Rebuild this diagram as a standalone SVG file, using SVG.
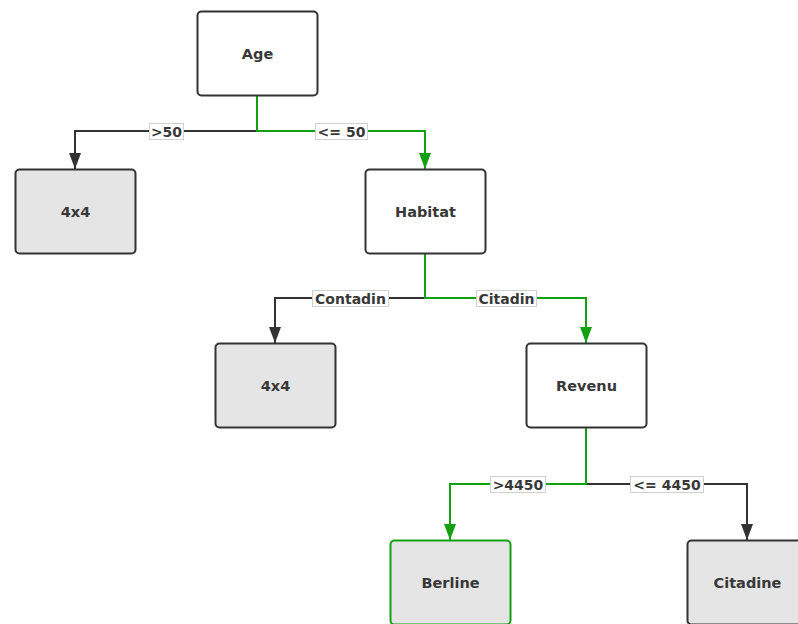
<svg xmlns="http://www.w3.org/2000/svg" width="798" height="624" viewBox="0 0 798 624">
  <style>
    .box { stroke: #333; stroke-width: 2; fill: #fff; }
    .leaf { fill: #e5e5e5; }
    .hl { stroke: #13a013; }
    .t { font-family: "DejaVu Sans", "Open Sans", sans-serif; font-weight: bold; font-size: 14.5px; fill: #383838; text-anchor: middle; dominant-baseline: central; }
    .c { fill: none; stroke: #333; stroke-width: 2; }
    .cg { fill: none; stroke: #13a013; stroke-width: 2; }
    .lb { fill: #fff; stroke: #d0d0d0; stroke-width: 1; }
    .lt { font-family: "DejaVu Sans", "Open Sans", sans-serif; font-weight: bold; font-size: 14px; fill: #383838; text-anchor: middle; dominant-baseline: central; }
  </style>
  <defs>
    <marker id="arr" viewBox="0 0 16 12" refX="16" refY="6" markerWidth="16" markerHeight="12" markerUnits="userSpaceOnUse" orient="auto">
      <path d="M0 0 L16 6 L0 12 Z" fill="#333"/>
    </marker>
    <marker id="arrg" viewBox="0 0 16 12" refX="16" refY="6" markerWidth="16" markerHeight="12" markerUnits="userSpaceOnUse" orient="auto">
      <path d="M0 0 L16 6 L0 12 Z" fill="#13a013"/>
    </marker>
  </defs>

  <g id="connectors">
    <!-- Age -->
    <path class="c" d="M257 131 H75 V169" marker-end="url(#arr)"/>
    <path class="cg" d="M257 96 V131 H425 V169" marker-end="url(#arrg)"/>
    <!-- Habitat -->
    <path class="c" d="M425 298 H275 V343" marker-end="url(#arr)"/>
    <path class="cg" d="M425 253 V298 H586 V343" marker-end="url(#arrg)"/>
    <!-- Revenu -->
    <path class="c" d="M586 484 H747 V540" marker-end="url(#arr)"/>
    <path class="cg" d="M586 427 V484 H450 V540" marker-end="url(#arrg)"/>

    <rect class="lb" x="149.5" y="123.5" width="34" height="16"/>
    <text class="lt" x="166.5" y="132">&gt;50</text>
    <rect class="lb" x="315.5" y="123.5" width="52" height="16"/>
    <text class="lt" x="341.5" y="132">&lt;= 50</text>

    <rect class="lb" x="312.5" y="290.5" width="76" height="16"/>
    <text class="lt" x="350.5" y="299">Contadin</text>
    <rect class="lb" x="476.5" y="290.5" width="60" height="16"/>
    <text class="lt" x="506.5" y="299">Citadin</text>

    <rect class="lb" x="490.5" y="476.5" width="55" height="16"/>
    <text class="lt" x="518" y="485">&gt;4450</text>
    <rect class="lb" x="630.5" y="476.5" width="73" height="16"/>
    <text class="lt" x="667" y="485">&lt;= 4450</text>
  </g>

  <g id="age">
    <rect class="box" x="197.5" y="11.5" width="120" height="84" rx="4"/>
    <text class="t" x="257.5" y="53.5">Age</text>
  </g>
  <g id="leaf-4x4-a">
    <rect class="box leaf" x="15.5" y="169.5" width="120" height="84" rx="4"/>
    <text class="t" x="75.5" y="211.5">4x4</text>
  </g>
  <g id="habitat">
    <rect class="box" x="365.5" y="169.5" width="120" height="84" rx="4"/>
    <text class="t" x="425.5" y="211.5">Habitat</text>
  </g>
  <g id="leaf-4x4-b">
    <rect class="box leaf" x="215.5" y="343.5" width="120" height="84" rx="4"/>
    <text class="t" x="275.5" y="385.5">4x4</text>
  </g>
  <g id="revenu">
    <rect class="box" x="526.5" y="343.5" width="120" height="84" rx="4"/>
    <text class="t" x="586.5" y="385.5">Revenu</text>
  </g>
  <g id="berline">
    <rect class="box leaf hl" x="390.5" y="540.5" width="120" height="84" rx="4"/>
    <text class="t" x="450.5" y="582.5">Berline</text>
  </g>
  <g id="citadine">
    <rect class="box leaf" x="687.5" y="540.5" width="120" height="84" rx="4"/>
    <text class="t" x="747.5" y="582.5">Citadine</text>
  </g>
</svg>
